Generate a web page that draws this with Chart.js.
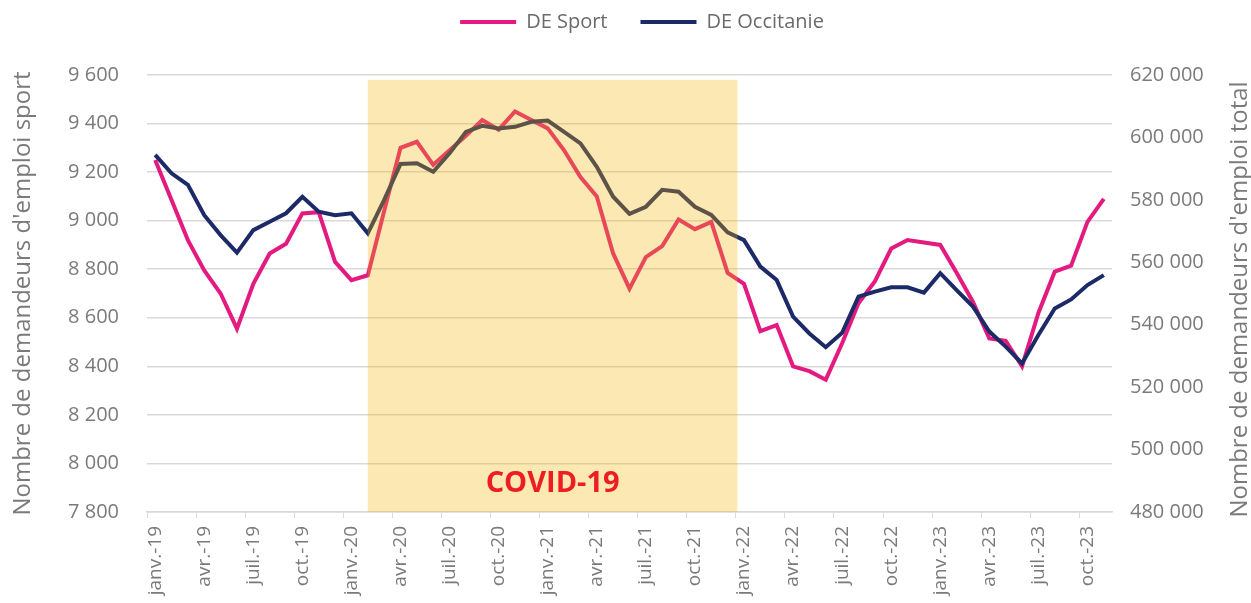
<!DOCTYPE html>
<html lang="fr">
<head>
<meta charset="utf-8">
<title>DE Sport / DE Occitanie</title>
<script src="https://cdn.jsdelivr.net/npm/chart.js@4/dist/chart.umd.min.js"></script>
<style>
  html, body { margin: 0; padding: 0; background: #fff; overflow: hidden; }
  #wrap { width: 1251px; height: 603px; position: relative; }
</style>
</head>
<body>
<div id="wrap"><canvas id="chart"></canvas></div>
<script>
// months janv.-19 -> nov.-23
const monthNames = ['janv.', 'févr.', 'mars', 'avr.', 'mai', 'juin', 'juil.', 'août', 'sept.', 'oct.', 'nov.', 'déc.'];
const years = ['19', '20', '21', '22', '23'];
const months = [];
years.forEach(y => monthNames.forEach(m => months.push(m + '-' + y)));
months.length = 59;

// demandeurs d'emploi, sport (left axis)
const deSport = [
  9250, 9085, 8920, 8795, 8700, 8555, 8740, 8865, 8905, 9030, 9035, 8830,
  8755, 8775, 9040, 9300, 9325, 9230, 9290, 9350, 9415, 9375, 9450, 9415,
  9380, 9290, 9180, 9100, 8865, 8720, 8850, 8895, 9005, 8965, 8995, 8785,
  8740, 8545, 8570, 8400, 8380, 8345, 8495, 8660, 8750, 8885, 8920, 8910,
  8900, 8785, 8665, 8515, 8505, 8400, 8620, 8790, 8815, 8995, 9090
];

// demandeurs d'emploi, Occitanie total (right axis)
const deOccitanie = [
  594400, 588500, 584800, 575100, 568700, 563100, 570300, 573000, 575700, 581000, 576200, 575100,
  575700, 569300, 580000, 591500, 591700, 589000, 594900, 601800, 603700, 602900, 603400, 605000,
  605400, 601800, 598100, 590600, 581000, 575500, 577800, 583200, 582600, 577800, 575200, 569600,
  567100, 558600, 554300, 542600, 537200, 532800, 537400, 549000, 550600, 552000, 552000, 550300,
  556500, 551100, 545800, 537800, 533000, 527600, 536700, 545200, 548100, 552700, 555900
];

const sportAxis = { min: 7800, max: 9600, step: 200 };
const totalAxis = { min: 480000, max: 620000, step: 20000 };

// covid period, in category units (index of month)
const covidStart = 13;
const covidEnd = 35.6;
const covidTop = 9580;
const covidLabel = 'COVID-19';

const FONT = "'Open Sans', sans-serif";
const GREY = '#7a7a7a';
const GRID = '#d9d9d9';

const fmt = v => String(v).replace(/\B(?=(\d{3})+(?!\d))/g, ' ');

const covidBand = {
  id: 'covidBand',
  afterDatasetsDraw(chart) {
    const { ctx, chartArea, scales: { x, y } } = chart;
    const left = x.getPixelForValue(covidStart);
    const right = x.getPixelForValue(covidEnd);
    const top = y.getPixelForValue(covidTop);
    ctx.save();
    ctx.fillStyle = 'rgba(245, 180, 0, 0.3)';
    ctx.fillRect(left, top, right - left, chartArea.bottom - top);
    ctx.fillStyle = '#ee1c24';
    ctx.font = 'bold 29px ' + FONT;
    ctx.textAlign = 'center';
    ctx.textBaseline = 'middle';
    ctx.fillText(covidLabel, (left + right) / 2, chartArea.bottom - 28);
    ctx.restore();
  }
};

// right axis title reads bottom to top, like the left one
const rightTitle = {
  id: 'rightTitle',
  afterDraw(chart) {
    const { ctx, chartArea } = chart;
    ctx.save();
    ctx.translate(1240, (chartArea.top + chartArea.bottom) / 2 + 6);
    ctx.rotate(-Math.PI / 2);
    ctx.fillStyle = GREY;
    ctx.font = '24px ' + FONT;
    ctx.textAlign = 'center';
    ctx.textBaseline = 'middle';
    ctx.fillText("Nombre de demandeurs d'emploi total", 0, 0);
    ctx.restore();
  }
};

// extra room under the legend
const legendGap = {
  id: 'legendGap',
  beforeInit(chart) {
    const fit = chart.legend.fit;
    chart.legend.fit = function () {
      fit.call(this);
      this.height += 33;
    };
  }
};

new Chart(document.getElementById('chart'), {
  type: 'line',
  data: {
    labels: months,
    datasets: [{
      label: 'DE Sport',
      data: deSport,
      yAxisID: 'y',
      borderColor: '#e31a7f',
      backgroundColor: '#e31a7f',
      borderWidth: 4,
      pointRadius: 0,
      tension: 0,
      order: 1
    }, {
      label: 'DE Occitanie',
      data: deOccitanie,
      yAxisID: 'y1',
      borderColor: '#1c2a68',
      backgroundColor: '#1c2a68',
      borderWidth: 4,
      pointRadius: 0,
      tension: 0,
      order: 0
    }]
  },
  options: {
    responsive: true,
    maintainAspectRatio: false,
    animation: false,
    layout: { padding: { top: -21, right: -33, left: 0, bottom: 0 } },
    plugins: {
      tooltip: { enabled: false },
      legend: {
        position: 'top',
        labels: {
          font: { family: FONT, size: 20 },
          color: '#6a6a6a',
          usePointStyle: true,
          pointStyle: 'line',
          pointStyleWidth: 56,
          padding: 33,
          sort: (a, b) => a.datasetIndex - b.datasetIndex
        }
      }
    },
    scales: {
      x: {
        offset: true,
        afterFit: s => { s.height = 91; },
        grid: {
          offset: true,
          drawOnChartArea: false,
          tickLength: 6,
          tickColor: c => (c.index % 3 === 0 ? GRID : 'rgba(0,0,0,0)')
        },
        border: { color: GRID, width: 1.5 },
        ticks: {
          autoSkip: false,
          maxRotation: 90,
          minRotation: 90,
          padding: 8,
          color: GREY,
          font: { family: FONT, size: 19 },
          callback: (v, i) => (i % 3 === 0 ? months[i] : '')
        }
      },
      y: {
        position: 'left',
        min: sportAxis.min,
        max: sportAxis.max,
        afterFit: s => { s.width = 147; },
        grid: { color: GRID, lineWidth: 1.5, drawTicks: false },
        border: { display: false },
        ticks: {
          stepSize: sportAxis.step,
          padding: 28,
          color: GREY,
          font: { family: FONT, size: 20 },
          callback: v => fmt(v)
        },
        title: {
          display: true,
          text: "Nombre de demandeurs d'emploi sport",
          color: GREY,
          font: { family: FONT, size: 24, lineHeight: 1 },
          padding: { top: 11, bottom: 0 }
        }
      },
      y1: {
        position: 'right',
        min: totalAxis.min,
        max: totalAxis.max,
        afterFit: s => { s.width = 172; },
        grid: { drawOnChartArea: false, drawTicks: false },
        border: { display: false },
        ticks: {
          stepSize: totalAxis.step,
          padding: 18,
          color: GREY,
          font: { family: FONT, size: 20 },
          callback: v => fmt(v)
        }
      }
    }
  },
  plugins: [legendGap, covidBand, rightTitle]
});
</script>
</body>
</html>
